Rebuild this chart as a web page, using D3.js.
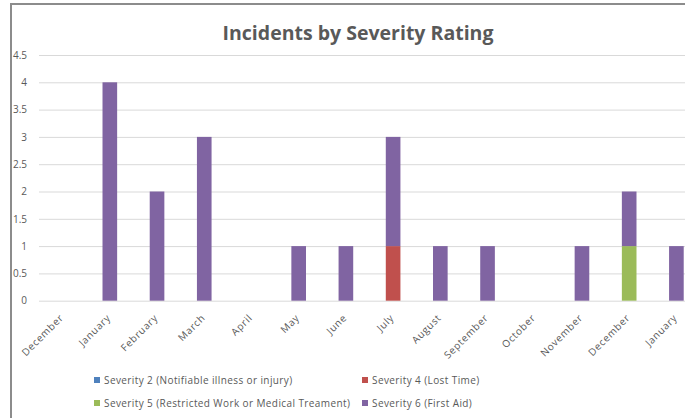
<!DOCTYPE html>
<html lang="en">
<head>
	<meta charset="UTF-8">
	<script src="https://d3js.org/d3.v7.min.js"></script>
	<style>
	body { margin: 0; background: #fff; }
	text { font-family: "Open Sans", sans-serif; fill: #595959; }
	</style>
	<title>Incidents by Severity Rating</title>
</head>
<body>
	<div id="chart"></div>
	<script>
		// Chart data
		const months = ["December", "January", "February", "March", "April", "May", "June",
			"July", "August", "September", "October", "November", "December", "January"];
		const severity2 = [0, 0, 0, 0, 0, 0, 0, 0, 0, 0, 0, 0, 0, 0];
		const severity4 = [0, 0, 0, 0, 0, 0, 0, 1, 0, 0, 0, 0, 0, 0];
		const severity5 = [0, 0, 0, 0, 0, 0, 0, 0, 0, 0, 0, 0, 1, 0];
		const severity6 = [0, 4, 2, 3, 0, 1, 1, 2, 1, 1, 0, 1, 1, 1];
		const yTicks = [0, 0.5, 1, 1.5, 2, 2.5, 3, 3.5, 4, 4.5];

		const seriesNames = ["Severity 2 (Notifiable illness or injury)", "Severity 4 (Lost Time)",
			"Severity 5 (Restricted Work or Medical Treament)", "Severity 6 (First Aid)"];
		const seriesColors = ["#4f81bd", "#c0504d", "#9bbb59", "#8064a2"];

		const width = 685, height = 418;

		const svg = d3.select("#chart")
			.append("svg")
			.attr("width", width)
			.attr("height", height);

		// Frame of the chart area
		svg.append("path")
			.attr("d", "M11,418 V4 H685")
			.attr("fill", "none")
			.attr("stroke", "#8c8c8c")
			.attr("stroke-width", 2);

		// Title
		svg.append("text")
			.attr("x", 358)
			.attr("y", 40)
			.attr("text-anchor", "middle")
			.style("font-size", "19.5px")
			.style("font-weight", "bold")
			.text("Incidents by Severity Rating");

		// Scales
		const x = d3.scaleBand()
			.domain(d3.range(months.length))
			.range([39, 700])
			.paddingInner(0.69)
			.paddingOuter(0.345);

		const y = d3.scaleLinear([0, 4.5], [300.7, 55]);

		// Gridlines and y labels
		const yAxis = svg.append("g")
			.call(d3.axisLeft(y).tickValues(yTicks).tickSize(0).tickPadding(0)
				.tickFormat(d3.format("~g")));
		yAxis.select(".domain").remove();
		yAxis.selectAll("text")
			.attr("x", 27)
			.attr("text-anchor", "end")
			.style("font-size", "10px")
			.style("fill", "#595959");
		yAxis.selectAll(".tick").append("line")
			.attr("x1", 39)
			.attr("x2", 700)
			.attr("stroke", "#d9d9d9")
			.attr("stroke-width", 1);

		// Stacked bars
		const rows = months.map(function(m, i) {
			return { i: i, s2: severity2[i], s4: severity4[i], s5: severity5[i], s6: severity6[i] };
		});
		const stack = d3.stack().keys(["s2", "s4", "s5", "s6"]);
		const layers = stack(rows);

		svg.append("g")
			.selectAll("g")
			.data(layers)
			.join("g")
			.attr("fill", function(d, i) { return seriesColors[i]; })
			.selectAll("rect")
			.data(function(d) { return d; })
			.join("rect")
			.attr("x", function(d) { return x(d.data.i); })
			.attr("width", x.bandwidth())
			.attr("y", function(d) { return y(d[1]); })
			.attr("height", function(d) { return y(d[0]) - y(d[1]); });

		// Month labels
		svg.append("g")
			.selectAll("text")
			.data(months)
			.join("text")
			.attr("transform", function(d, i) {
				return "translate(" + (x(i) + x.bandwidth() / 2 - 1) + ",316) rotate(-45)";
			})
			.attr("text-anchor", "end")
			.attr("dy", "0.35em")
			.style("font-size", "10px")
			.style("letter-spacing", "0.7px")
			.text(function(d) { return d; });

		// Legend
		const legendPos = [[94, 380], [362, 380], [94, 403], [362, 403]];
		const legend = svg.append("g")
			.selectAll("g")
			.data(seriesNames)
			.join("g")
			.attr("transform", function(d, i) {
				return "translate(" + legendPos[i][0] + "," + legendPos[i][1] + ")";
			});
		legend.append("rect")
			.attr("x", 0)
			.attr("y", -3)
			.attr("width", 6)
			.attr("height", 6)
			.attr("fill", function(d, i) { return seriesColors[i]; });
		legend.append("text")
			.attr("x", 10)
			.attr("dy", "0.35em")
			.style("font-size", "10px")
			.style("letter-spacing", "0.4px")
			.text(function(d) { return d; });
	</script>
</body>
</html>
